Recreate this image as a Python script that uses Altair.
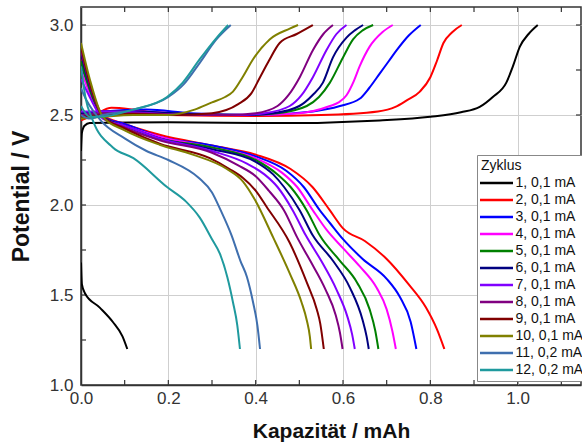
import altair as alt
import pandas as pd

cycles = ["1, 0,1 mA", "2, 0,1 mA", "3, 0,1 mA", "4, 0,1 mA", "5, 0,1 mA", "6, 0,1 mA",
          "7, 0,1 mA", "8, 0,1 mA", "9, 0,1 mA", "10, 0,1 mA", "11, 0,2 mA", "12, 0,2 mA"]
colors = ["#000000", "#ff0000", "#0000ff", "#ff00ff", "#008000", "#000080",
          "#8000ff", "#800080", "#800000", "#808000", "#3f6fae", "#1f9a9e"]

x_ticks = [0.0, 0.2, 0.4, 0.6, 0.8, 1.0]
y_ticks = [1.0, 1.5, 2.0, 2.5, 3.0]
x_minor = [0.1, 0.2, 0.3, 0.4, 0.5, 0.6, 0.7, 0.8, 0.9, 1.0, 1.1]
y_minor = [1.25, 1.5, 1.75, 2.0, 2.25, 2.5, 2.75, 3.0]

d1_x = [0, 0.002, 0.009, 0.043, 0.073, 0.095, 0.106]
d1_y = [1.68, 1.56, 1.51, 1.43, 1.35, 1.27, 1.2]
d2_x = [0, 0.02, 0.05, 0.1, 0.18, 0.3, 0.4, 0.48, 0.53, 0.57, 0.6, 0.65, 0.7, 0.75, 0.79, 0.815, 0.832]
d2_y = [2.82, 2.66, 2.5, 2.45, 2.39, 2.33, 2.28, 2.2, 2.1, 1.97, 1.87, 1.8, 1.7, 1.56, 1.43, 1.31, 1.2]
d3_x = [0, 0.02, 0.05, 0.1, 0.18, 0.3, 0.4, 0.47, 0.51, 0.547, 0.57, 0.6, 0.645, 0.7, 0.73, 0.755, 0.768]
d3_y = [2.78, 2.64, 2.49, 2.45, 2.38, 2.33, 2.27, 2.19, 2.1, 1.97, 1.9, 1.81, 1.7, 1.59, 1.49, 1.35, 1.2]
d4_x = [0, 0.02, 0.05, 0.1, 0.18, 0.3, 0.4, 0.46, 0.495, 0.531, 0.563, 0.6, 0.638, 0.677, 0.7, 0.713, 0.721]
d4_y = [2.75, 2.62, 2.49, 2.44, 2.38, 2.32, 2.26, 2.18, 2.1, 1.97, 1.86, 1.76, 1.66, 1.54, 1.42, 1.3, 1.2]
d5_x = [0, 0.02, 0.05, 0.1, 0.18, 0.3, 0.4, 0.45, 0.48, 0.517, 0.547, 0.593, 0.632, 0.661, 0.674, 0.681]
d5_y = [2.8, 2.64, 2.49, 2.44, 2.37, 2.32, 2.25, 2.17, 2.1, 1.97, 1.83, 1.69, 1.57, 1.42, 1.3, 1.2]
d6_x = [0, 0.02, 0.05, 0.1, 0.18, 0.3, 0.4, 0.44, 0.465, 0.501, 0.531, 0.577, 0.616, 0.645, 0.654, 0.659]
d6_y = [2.84, 2.66, 2.49, 2.44, 2.37, 2.31, 2.24, 2.17, 2.1, 1.97, 1.83, 1.69, 1.54, 1.36, 1.27, 1.2]
d7_x = [0, 0.02, 0.05, 0.1, 0.18, 0.3, 0.38, 0.42, 0.45, 0.485, 0.515, 0.55, 0.585, 0.61, 0.621, 0.627]
d7_y = [2.7, 2.6, 2.48, 2.44, 2.37, 2.3, 2.23, 2.17, 2.1, 1.97, 1.83, 1.69, 1.53, 1.38, 1.28, 1.2]
d8_x = [0, 0.02, 0.05, 0.1, 0.18, 0.3, 0.36, 0.4, 0.43, 0.465, 0.495, 0.525, 0.56, 0.583, 0.593, 0.599]
d8_y = [2.86, 2.67, 2.49, 2.43, 2.36, 2.29, 2.22, 2.16, 2.08, 1.97, 1.82, 1.69, 1.53, 1.39, 1.29, 1.2]
d9_x = [0, 0.02, 0.05, 0.1, 0.18, 0.295, 0.34, 0.371, 0.4, 0.425, 0.478, 0.517, 0.54, 0.548, 0.556]
d9_y = [2.88, 2.68, 2.49, 2.425, 2.34, 2.26, 2.2, 2.15, 2.08, 1.99, 1.79, 1.57, 1.42, 1.34, 1.2]
d10_x = [0, 0.02, 0.05, 0.1, 0.18, 0.256, 0.334, 0.371, 0.398, 0.44, 0.478, 0.505, 0.517, 0.524, 0.527]
d10_y = [2.9, 2.7, 2.49, 2.415, 2.335, 2.28, 2.2, 2.13, 2.03, 1.82, 1.62, 1.46, 1.36, 1.27, 1.2]
d11_x = [0, 0.005, 0.045, 0.1, 0.15, 0.2, 0.27, 0.3, 0.32, 0.345, 0.365, 0.38, 0.394, 0.404, 0.41]
d11_y = [2.65, 2.62, 2.47, 2.37, 2.3, 2.25, 2.15, 2.07, 1.97, 1.83, 1.69, 1.6, 1.46, 1.33, 1.2]
d12_x = [0, 0.01, 0.027, 0.073, 0.12, 0.197, 0.24, 0.272, 0.3, 0.318, 0.335, 0.348, 0.358, 0.364]
d12_y = [2.77, 2.6, 2.47, 2.32, 2.26, 2.1, 2.02, 1.93, 1.81, 1.73, 1.6, 1.46, 1.33, 1.2]

c1_x = [0, 0.002, 0.008, 0.02, 0.2, 0.455, 0.684, 0.8, 0.87, 0.913, 0.943, 0.974, 0.989, 1.005, 1.025, 1.046]
c1_y = [2.3, 2.4, 2.44, 2.455, 2.46, 2.455, 2.47, 2.49, 2.515, 2.545, 2.6, 2.68, 2.77, 2.88, 2.95, 3.0]
c2_x = [0, 0.03, 0.07, 0.12, 0.2, 0.4, 0.55, 0.68, 0.72, 0.745, 0.776, 0.8, 0.815, 0.83, 0.85, 0.872]
c2_y = [2.47, 2.5, 2.54, 2.53, 2.5, 2.495, 2.5, 2.52, 2.545, 2.58, 2.63, 2.71, 2.8, 2.9, 2.96, 3.0]
c3_x = [0, 0.05, 0.15, 0.25, 0.4, 0.531, 0.593, 0.638, 0.66, 0.684, 0.705, 0.723, 0.75, 0.778]
c3_y = [2.49, 2.52, 2.53, 2.51, 2.5, 2.52, 2.55, 2.59, 2.65, 2.73, 2.8, 2.86, 2.94, 3.0]
c4_x = [0, 0.05, 0.12, 0.25, 0.4, 0.5, 0.57, 0.59, 0.608, 0.625, 0.638, 0.661, 0.69, 0.714]
c4_y = [2.5, 2.52, 2.52, 2.505, 2.5, 2.51, 2.55, 2.57, 2.61, 2.69, 2.77, 2.88, 2.96, 3.0]
c5_x = [0, 0.05, 0.12, 0.25, 0.38, 0.45, 0.517, 0.545, 0.57, 0.6, 0.623, 0.645, 0.669]
c5_y = [2.48, 2.51, 2.515, 2.505, 2.5, 2.51, 2.55, 2.6, 2.68, 2.82, 2.92, 2.97, 3.0]
c6_x = [0, 0.05, 0.12, 0.25, 0.38, 0.44, 0.5, 0.53, 0.554, 0.577, 0.608, 0.627, 0.646]
c6_y = [2.51, 2.52, 2.52, 2.505, 2.5, 2.51, 2.55, 2.61, 2.68, 2.82, 2.93, 2.97, 3.0]
c7_x = [0, 0.05, 0.12, 0.25, 0.36, 0.42, 0.478, 0.505, 0.531, 0.562, 0.585, 0.608]
c7_y = [2.52, 2.52, 2.515, 2.5, 2.5, 2.51, 2.55, 2.61, 2.71, 2.86, 2.95, 3.0]
c8_x = [0, 0.05, 0.12, 0.25, 0.34, 0.4, 0.45, 0.475, 0.501, 0.531, 0.555, 0.577]
c8_y = [2.5, 2.51, 2.51, 2.5, 2.5, 2.51, 2.55, 2.61, 2.71, 2.86, 2.95, 3.0]
c9_x = [0, 0.05, 0.12, 0.22, 0.3, 0.36, 0.39, 0.41, 0.43, 0.455, 0.494, 0.531]
c9_y = [2.49, 2.5, 2.505, 2.5, 2.51, 2.56, 2.62, 2.71, 2.8, 2.9, 2.95, 3.0]
c10_x = [0, 0.05, 0.12, 0.2, 0.26, 0.3, 0.33, 0.348, 0.37, 0.394, 0.432, 0.478, 0.497]
c10_y = [2.48, 2.49, 2.5, 2.5, 2.53, 2.57, 2.6, 2.63, 2.71, 2.81, 2.92, 2.98, 3.0]
c11_x = [0, 0.02, 0.05, 0.12, 0.2, 0.235, 0.272, 0.31, 0.343]
c11_y = [2.5, 2.48, 2.5, 2.53, 2.6, 2.67, 2.79, 2.92, 3.0]
c12_x = [0, 0.02, 0.043, 0.119, 0.197, 0.233, 0.272, 0.311, 0.337]
c12_y = [2.55, 2.49, 2.49, 2.53, 2.6, 2.68, 2.81, 2.93, 3.0]

dis_x = [d1_x, d2_x, d3_x, d4_x, d5_x, d6_x, d7_x, d8_x, d9_x, d10_x, d11_x, d12_x]
dis_y = [d1_y, d2_y, d3_y, d4_y, d5_y, d6_y, d7_y, d8_y, d9_y, d10_y, d11_y, d12_y]
cha_x = [c1_x, c2_x, c3_x, c4_x, c5_x, c6_x, c7_x, c8_x, c9_x, c10_x, c11_x, c12_x]
cha_y = [c1_y, c2_y, c3_y, c4_y, c5_y, c6_y, c7_y, c8_y, c9_y, c10_y, c11_y, c12_y]

rows = []
for i, name in enumerate(cycles):
    for branch, xs, ys in (("Entladung", dis_x[i], dis_y[i]), ("Ladung", cha_x[i], cha_y[i])):
        for k, (xv, yv) in enumerate(zip(xs, ys)):
            rows.append({"Zyklus": name, "branch": branch, "cap": xv, "pot": yv, "k": k})
df = pd.DataFrame(rows)
df_xt = pd.DataFrame({"cap": x_minor})
df_yt = pd.DataFrame({"pot": y_minor})

FONT = "Liberation Sans"
W, H = 500, 378

x_scale = alt.Scale(domain=[0, 1.145], nice=False, zero=False)
y_scale = alt.Scale(domain=[1.0, 3.1], nice=False, zero=False)
x_axis = alt.Axis(values=x_ticks, format=".1f", title="Kapazität / mAh",
                  ticks=False, labelFontSize=17, labelColor="#333333", labelPadding=5,
                  titleFontSize=21, titleFontWeight="bold", titleColor="#111111",
                  titlePadding=14, grid=True, gridColor="#cfcfcf", gridWidth=1,
                  domainColor="#333333", domainWidth=1.5, labelFlush=False)
y_axis = alt.Axis(values=y_ticks, format=".1f", title="Potential / V",
                  ticks=False, labelFontSize=17, labelColor="#333333", labelPadding=8,
                  titleFontSize=23, titleFontWeight="bold", titleColor="#111111",
                  titlePadding=16, grid=True, gridColor="#cfcfcf", gridWidth=1,
                  domainColor="#333333", domainWidth=1.5, labelFlush=False)

lines = alt.Chart(df).mark_line(strokeWidth=2, interpolate="monotone", clip=True).encode(
    x=alt.X("cap:Q", scale=x_scale, axis=x_axis),
    y=alt.Y("pot:Q", scale=y_scale, axis=y_axis),
    color=alt.Color("Zyklus:N", sort=cycles,
                    scale=alt.Scale(domain=cycles, range=colors),
                    legend=alt.Legend(orient="none", legendX=396, legendY=148,
                                      title="Zyklus", titleFontSize=14, titleFontWeight="normal",
                                      titleColor="#111111", titlePadding=3,
                                      labelFontSize=14, labelColor="#111111", labelLimit=200,
                                      labelAlign="left", columns=1,
                                      symbolType="M-3,0H3", symbolSize=121, symbolStrokeWidth=2.5,
                                      symbolOffset=8.5, labelOffset=12, rowPadding=3,
                                      strokeColor="#888888", fillColor="white", padding=4,
                                      cornerRadius=0)),
    detail="branch:N",
    order="k:Q",
)

tick_style = dict(color="#333333", strokeWidth=1.2)
xt_bottom = alt.Chart(df_xt).mark_rule(**tick_style).encode(
    x=alt.X("cap:Q", scale=x_scale, axis=x_axis), y=alt.value(H), y2=alt.value(H - 5))
xt_top = alt.Chart(df_xt).mark_rule(**tick_style).encode(
    x=alt.X("cap:Q", scale=x_scale, axis=x_axis), y=alt.value(0), y2=alt.value(5))
yt_left = alt.Chart(df_yt).mark_rule(**tick_style).encode(
    y=alt.Y("pot:Q", scale=y_scale, axis=y_axis), x=alt.value(0), x2=alt.value(5))
yt_right = alt.Chart(df_yt).mark_rule(**tick_style).encode(
    y=alt.Y("pot:Q", scale=y_scale, axis=y_axis), x=alt.value(W), x2=alt.value(W - 5))

chart = alt.layer(xt_bottom, xt_top, yt_left, yt_right, lines).properties(
    width=W, height=H,
    padding={"left": 81, "top": 7, "right": 1, "bottom": 58},
    autosize=alt.AutoSizeParams(type="none"),
).configure(font=FONT).configure_view(stroke="#333333", strokeWidth=1.5)

chart.save("out.html", embed_options={"renderer": "svg", "actions": False})
